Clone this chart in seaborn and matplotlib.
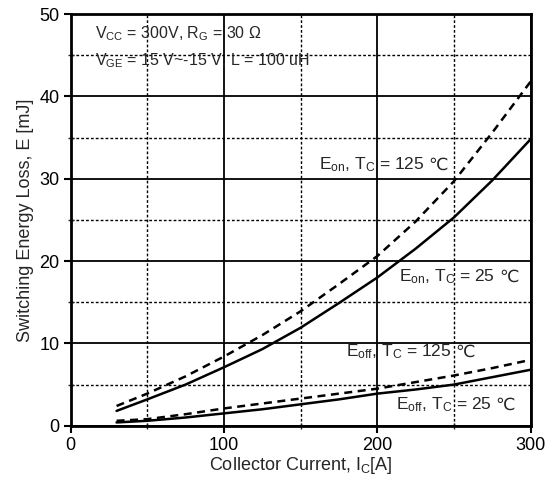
"""
Switching energy loss vs collector current (IGBT datasheet style chart).
"""

import matplotlib
matplotlib.use("Agg")
import matplotlib.pyplot as plt
from matplotlib.ticker import MultipleLocator
import pandas as pd
import seaborn as sns

# Values
current = [30, 50, 75, 100, 125, 150, 175, 200, 225, 250, 275, 300]
eon_25 = [1.8, 3.2, 5.0, 7.1, 9.3, 11.9, 14.9, 18.0, 21.5, 25.3, 29.8, 34.8]
eon_125 = [2.4, 3.9, 6.0, 8.4, 11.0, 13.9, 17.2, 20.6, 24.8, 29.7, 35.6, 41.8]
eoff_25 = [0.4, 0.6, 1.0, 1.5, 2.0, 2.6, 3.2, 3.9, 4.4, 5.0, 5.9, 6.8]
eoff_125 = [0.6, 0.8, 1.4, 2.1, 2.7, 3.3, 3.9, 4.5, 5.3, 6.1, 7.0, 8.0]

x_ticks = [0, 100, 200, 300]
y_ticks = [0, 10, 20, 30, 40, 50]

sns.set_style("ticks")
plt.rcParams['font.family'] = ['Liberation Sans', 'DejaVu Sans']
plt.rcParams['mathtext.fontset'] = 'custom'
plt.rcParams['mathtext.rm'] = 'Liberation Sans'
plt.rcParams['mathtext.it'] = 'Liberation Sans'
plt.rcParams['mathtext.default'] = 'rm'

fig = plt.figure(figsize=(5.47, 4.86), dpi=100)
ax = fig.add_axes([0.129, 0.124, 0.841, 0.847])

df = pd.DataFrame({'current': current, 'eon_25': eon_25, 'eon_125': eon_125,
                   'eoff_25': eoff_25, 'eoff_125': eoff_125})

dash = (0, (3.2, 2.2))
for col, style in [('eon_25', '-'), ('eon_125', dash),
                   ('eoff_25', '-'), ('eoff_125', dash)]:
    sns.lineplot(x='current', y=col, data=df, ax=ax, color='black',
                 linewidth=1.8, linestyle=style)

ax.set_xlim(0, 300)
ax.set_ylim(0, 50)
ax.set_xticks(x_ticks)
ax.set_yticks(y_ticks)
ax.xaxis.set_minor_locator(MultipleLocator(50))
ax.yaxis.set_minor_locator(MultipleLocator(5))

# grid: solid majors, dotted minors
ax.grid(which='major', color='black', linewidth=1.3)
ax.grid(which='minor', color='black', linewidth=1.0, linestyle=(0, (2, 1.5)))
ax.set_axisbelow(True)

for spine in ax.spines.values():
    spine.set_visible(True)
    spine.set_linewidth(2)
    spine.set_color('black')

ax.tick_params(which='major', direction='out', length=5, width=1.5,
               labelsize=13, colors='black', pad=3)
ax.tick_params(which='minor', direction='inout', length=4, width=1.0)

ax.set_xlabel(r"Collector Current, I$_C$[A]", fontsize=13, labelpad=1)
ax.set_ylabel("Switching Energy Loss, E [mJ]", fontsize=13, labelpad=4)

# condition text
ax.text(15.8, 47.0, r"V$_{CC}$ = 300V, R$_G$ = 30 Ω", fontsize=11.5, va='baseline')
ax.text(15.8, 43.8, r"V$_{GE}$ = 15 V~-15 V, L = 100 uH", fontsize=11.5, va='baseline')

fig.canvas.draw()


def curve_label(x, y, text, size=12.5):
    # mathtext part first, then the degree sign as plain text right after it
    t = ax.text(x, y, text, fontsize=size, va='baseline')
    bb = t.get_window_extent(renderer=fig.canvas.get_renderer())
    width_pt = bb.width * 72 / fig.dpi
    ax.annotate("℃", xy=(x, y), xycoords='data',
                xytext=(width_pt + 3, 0), textcoords='offset points',
                fontsize=size, va='baseline', family=['DejaVu Sans'])


curve_label(162, 31.1, r"E$_{on}$, T$_C$ = 125")
curve_label(214.5, 17.5, r"E$_{on}$, T$_C$ = 25")
curve_label(179.4, 8.4, r"E$_{off}$, T$_C$ = 125")
curve_label(212, 2.0, r"E$_{off}$, T$_C$ = 25")

fig.savefig("out.png", dpi=100)
